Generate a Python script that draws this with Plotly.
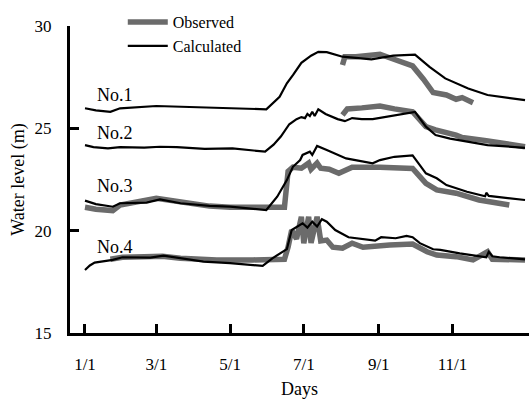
import plotly.graph_objects as go

# Day-of-year positions and water levels (m)
calc1_days = [1, 10, 22, 30, 60, 90, 124, 151, 162, 168, 173, 180, 188, 194, 201, 214, 238, 256, 274, 286, 299, 318, 334, 365]
calc1_vals = [25.98, 25.88, 25.81, 25.98, 26.09, 26.03, 25.98, 25.93, 26.54, 27.2, 27.6, 28.2, 28.55, 28.74, 28.72, 28.5, 28.37, 28.55, 28.6, 28.0, 27.44, 26.95, 26.63, 26.38]
obs1_days = [214, 216, 225, 232, 245, 253, 262, 272, 281, 289, 300, 308, 313, 322]
obs1_vals = [28.09, 28.5, 28.5, 28.56, 28.62, 28.45, 28.28, 28.05, 27.4, 26.75, 26.63, 26.42, 26.5, 26.25]

calc2_days = [1, 8, 20, 30, 50, 63, 77, 100, 123, 140, 150, 157, 163, 170, 176, 180, 183, 185, 187, 189, 191, 194, 200, 210, 216, 222, 230, 239, 255, 274, 283, 291, 303, 327, 334, 365]
calc2_vals = [24.18, 24.08, 24.02, 24.08, 24.06, 24.1, 24.08, 24.0, 24.02, 23.9, 23.86, 24.2, 24.6, 25.2, 25.45, 25.55, 25.5, 25.7, 25.6, 25.81, 25.6, 25.93, 25.7, 25.45, 25.35, 25.5, 25.45, 25.45, 25.6, 25.8, 25.08, 24.67, 24.5, 24.27, 24.18, 24.05]
obs2_days = [214, 218, 230, 236, 245, 257, 272, 283, 291, 308, 313, 333, 365]
obs2_vals = [25.65, 25.95, 26.0, 26.02, 26.09, 25.95, 25.81, 25.08, 24.92, 24.67, 24.55, 24.4, 24.1]

calc3_days = [1, 10, 24, 30, 52, 63, 80, 104, 121, 151, 160, 168, 173, 179, 181, 187, 189, 193, 201, 217, 239, 245, 257, 272, 283, 292, 300, 317, 332, 333, 335, 347, 365]
calc3_vals = [21.47, 21.3, 21.17, 21.34, 21.37, 21.53, 21.34, 21.21, 21.17, 21.01, 21.66, 22.47, 23.12, 23.45, 23.7, 23.86, 23.7, 24.14, 23.94, 23.53, 23.29, 23.45, 23.61, 23.68, 22.8, 22.56, 22.23, 21.9, 21.68, 21.85, 21.7, 21.62, 21.5]
obs3_days = [1, 10, 24, 30, 60, 80, 104, 121, 150, 166, 169, 173, 180, 186, 188, 193, 196, 203, 211, 222, 245, 272, 283, 292, 308, 327, 352]
obs3_vals = [21.14, 21.05, 20.98, 21.25, 21.58, 21.4, 21.2, 21.15, 21.15, 21.15, 22.9, 23.1, 23.05, 23.3, 23.0, 23.3, 23.05, 23.0, 22.8, 23.1, 23.1, 23.04, 22.31, 21.99, 21.83, 21.5, 21.25]

calc4_days = [1, 5, 9, 24, 32, 55, 66, 80, 99, 121, 148, 156, 163, 168, 172, 181, 185, 189, 193, 197, 201, 208, 219, 241, 246, 258, 267, 272, 278, 289, 295, 311, 333, 335, 338, 344, 365]
calc4_vals = [18.08, 18.3, 18.44, 18.57, 18.7, 18.68, 18.78, 18.65, 18.49, 18.41, 18.28, 18.65, 18.9, 19.1, 20.03, 20.36, 20.15, 20.44, 20.2, 20.56, 20.44, 20.03, 19.68, 19.51, 19.68, 19.63, 19.74, 19.68, 19.39, 19.09, 19.06, 18.89, 18.7, 18.97, 18.75, 18.7, 18.6]
obs4_days = [22, 32, 50, 65, 80, 99, 110, 140, 162, 166, 169, 172, 176, 180, 182, 186, 188, 193, 196, 201, 206, 214, 222, 231, 253, 272, 284, 292, 308, 322, 334, 338, 365]
obs4_vals = [18.6, 18.7, 18.72, 18.75, 18.65, 18.6, 18.57, 18.57, 18.57, 18.6, 19.2, 20.03, 19.6, 20.68, 19.39, 20.68, 19.4, 20.68, 19.5, 19.54, 19.19, 19.14, 19.39, 19.19, 19.3, 19.35, 18.97, 18.81, 18.73, 18.57, 18.97, 18.6, 18.57]

tick_days = [1, 60, 121, 182, 244, 305]
tick_labels = ["1/1", "3/1", "5/1", "7/1", "9/1", "11/1"]
y_ticks = [15, 20, 25, 30]
well_names = ["No.1", "No.2", "No.3", "No.4"]
label_y = [26.63, 24.79, 22.18, 19.22]

FONT = "Liberation Serif, Times New Roman, serif"
GRAY = "#6b6b6b"
XR = [-11.4, 368.3]
YR = [15, 30]

fig = go.Figure()
obs = [(obs1_days, obs1_vals), (obs2_days, obs2_vals), (obs3_days, obs3_vals), (obs4_days, obs4_vals)]
calc = [(calc1_days, calc1_vals), (calc2_days, calc2_vals), (calc3_days, calc3_vals), (calc4_days, calc4_vals)]
for i, (d, v) in enumerate(obs):
    fig.add_trace(go.Scatter(x=d, y=v, mode="lines", name="Observed",
                             line=dict(color=GRAY, width=5.5), showlegend=(i == 0),
                             legendgroup="obs"))
for i, (d, v) in enumerate(calc):
    fig.add_trace(go.Scatter(x=d, y=v, mode="lines", name="Calculated",
                             line=dict(color="black", width=2.2), showlegend=(i == 0),
                             legendgroup="calc"))

for name, yv in zip(well_names, label_y):
    fig.add_annotation(x=9, y=yv, text=name, showarrow=False, xanchor="left", yanchor="middle",
                       font=dict(family=FONT, size=18, color="black"))

fig.update_layout(
    width=529, height=399,
    margin=dict(l=70, r=0, t=26, b=66, autoexpand=False),
    plot_bgcolor="white", paper_bgcolor="white",
    font=dict(family=FONT, size=17, color="black"),
    legend=dict(x=0.115, y=1.068, xanchor="left", yanchor="top", bgcolor="rgba(0,0,0,0)",
                font=dict(family=FONT, size=16), tracegroupgap=0, itemwidth=40),
    xaxis=dict(range=XR, tickvals=tick_days, ticktext=tick_labels,
               showline=True, linecolor="black", linewidth=3, ticks="inside", ticklen=9,
               tickwidth=3, tickcolor="black", ticklabelstandoff=14,
               showgrid=False, zeroline=False,
               title=dict(text="Days", font=dict(family=FONT, size=18), standoff=10)),
    yaxis=dict(range=YR, tickvals=y_ticks,
               showline=True, linecolor="black", linewidth=3, ticks="inside", ticklen=9,
               tickwidth=3, tickcolor="black", ticklabelstandoff=12,
               showgrid=False, zeroline=False,
               title=dict(text="Water level (m)", font=dict(family=FONT, size=18), standoff=6)),
)

fig.write_html("out.html", config={"displayModeBar": False},
               post_script="document.body.style.margin='0';document.documentElement.style.overflow='hidden';")
